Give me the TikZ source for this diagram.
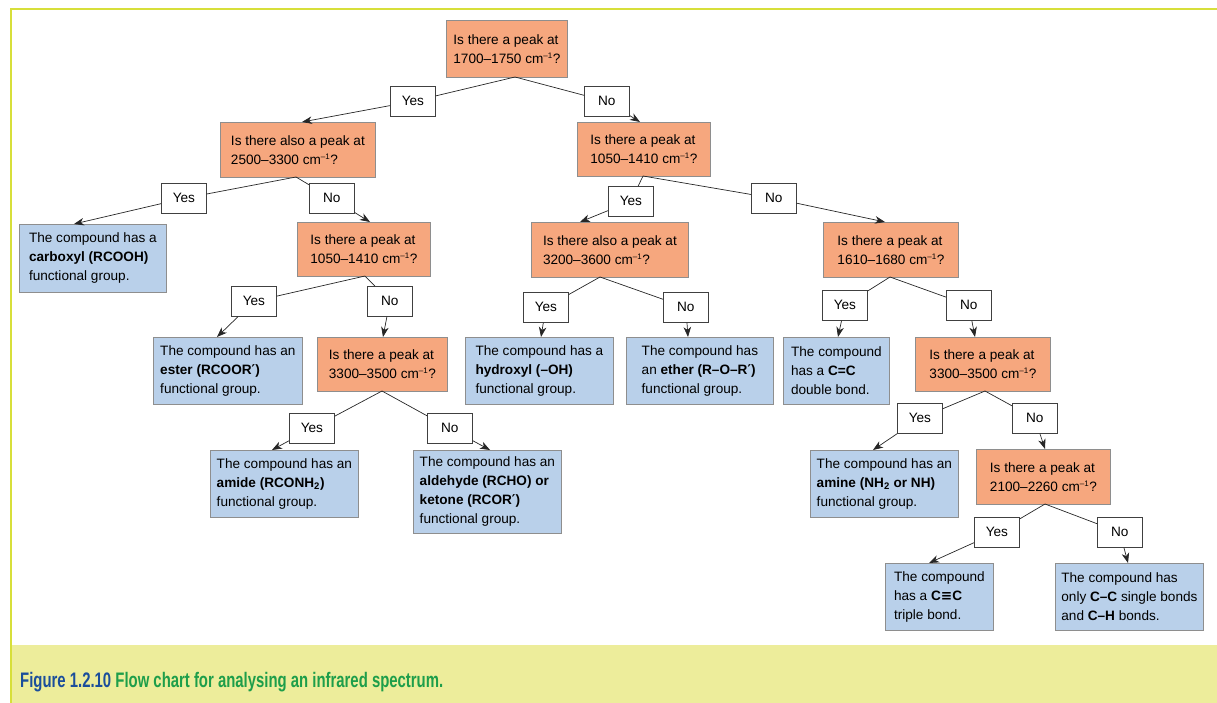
\documentclass[tikz,border=0pt]{standalone}
\usepackage{graphicx}
\usepackage{fontspec}
\setmainfont{Liberation Sans}
\newfontfamily\dv{DejaVu Sans}
\usetikzlibrary{arrows.meta}
\definecolor{qfill}{HTML}{F6A77E}
\definecolor{afill}{HTML}{B9D0EA}
\definecolor{bord}{HTML}{8E8E8E}
\definecolor{framec}{HTML}{D7DF3A}
\definecolor{band}{HTML}{EDED9B}
\definecolor{capblue}{HTML}{1B4E9B}
\definecolor{capgreen}{HTML}{1E9E4A}
\newcommand{\cmi}{cm\textsuperscript{\fontsize{8}{8}\selectfont –1}}
\begin{document}
\begin{tikzpicture}[x=1pt,y=-1pt,
  box/.style={draw=bord, line width=0.8pt, anchor=north west, align=left, inner sep=0pt, font=\fontsize{13.6}{19}\selectfont},
  qbox/.style={box, fill=qfill},
  abox/.style={box, fill=afill},
  lab/.style={draw=black!75, line width=0.7pt, fill=white, anchor=north west, minimum width=45pt, minimum height=30pt, inner sep=0pt, font=\fontsize{13.6}{16}\selectfont},
  conn/.style={draw=black!85, line width=0.7pt},
  arr/.style={conn, -{Stealth[length=10pt,width=7.5pt,inset=3pt]}},
]
\useasboundingbox (0,0) rectangle (1217,703);
\fill[band] (12,645) rectangle (1217,703);
\draw[framec, line width=2pt] (11,703) -- (11,9) -- (1217,9);
\node[anchor=base west, inner sep=0pt] (cap) at (20,687) {\resizebox{423pt}{\height}{\fontsize{21}{21}\selectfont\bfseries\color{capblue}Figure 1.2.10 \color{capgreen}Flow chart for analysing an infrared spectrum.}};

% question boxes
\node[qbox, minimum width=121pt, minimum height=57pt] (Q1) at (446,20) {Is there a peak at\\1700–1750 \cmi?};
\node[qbox, minimum width=155pt, minimum height=55pt] (Q2) at (220,122) {Is there also a peak at\\2500–3300 \cmi?};
\node[qbox, minimum width=133pt, minimum height=54pt] (Q3) at (577,122) {Is there a peak at\\1050–1410 \cmi?};
\node[qbox, minimum width=133pt, minimum height=54pt] (Q4) at (297,222) {Is there a peak at\\1050–1410 \cmi?};
\node[qbox, minimum width=157pt, minimum height=55pt] (Q5) at (531,222) {Is there also a peak at\\3200–3600 \cmi?};
\node[qbox, minimum width=135pt, minimum height=55pt] (Q6) at (823,222) {Is there a peak at\\1610–1680 \cmi?};
\node[qbox, minimum width=130pt, minimum height=54pt] (Q7) at (317,337) {Is there a peak at\\3300–3500 \cmi?};
\node[qbox, minimum width=135pt, minimum height=54pt] (Q8) at (915,337) {Is there a peak at\\3300–3500 \cmi?};
\node[qbox, minimum width=134pt, minimum height=55pt] (Q9) at (976,449) {Is there a peak at\\2100–2260 \cmi?};

% answer boxes
\node[abox, minimum width=147pt, minimum height=68pt] (A1) at (19,224) {The compound has a\\\textbf{carboxyl (RCOOH)}\\functional group.};
\node[abox, minimum width=149pt, minimum height=67pt] (A2) at (153,337) {The compound has an\\\textbf{ester (RCOOR{\dv′})}\\functional group.};
\node[abox, minimum width=148pt, minimum height=67pt] (A3) at (210,450) {The compound has an\\\textbf{amide (RCONH\textsubscript{2})}\\functional group.};
\node[abox, minimum width=148pt, minimum height=83pt] (A4) at (413,450) {The compound has an\\\textbf{aldehyde (RCHO) or}\\\textbf{ketone (RCOR{\dv′})}\\functional group.};
\node[abox, minimum width=148pt, minimum height=67pt] (A5) at (465,337) {The compound has a\\\textbf{hydroxyl (–OH)}\\functional group.};
\node[abox, minimum width=147pt, minimum height=67pt] (A6) at (626,337) {The compound has\\an \textbf{ether (R–O–R{\dv′})}\\functional group.};
\node[abox, minimum width=106pt, minimum height=67pt] (A7) at (783,337) {The compound\\has a \textbf{C=C}\\double bond.};
\node[abox, minimum width=148pt, minimum height=67pt] (A8) at (810,450) {The compound has an\\\textbf{amine (NH\textsubscript{2} or NH)}\\functional group.};
\node[abox, minimum width=108pt, minimum height=67pt] (A9) at (885,563) {The compound\\has a \textbf{C{\dv≡}C}\\triple bond.};
\node[abox, minimum width=148pt, minimum height=67pt] (A10) at (1055,563) {The compound has\\only \textbf{C–C} single bonds\\and \textbf{C–H} bonds.};

% start and end points of connectors
\coordinate (s1) at (515,77);
\coordinate (s2) at (296,177);
\coordinate (s3) at (643,176);
\coordinate (s4) at (365,276);
\coordinate (s5) at (600,277);
\coordinate (s6) at (890,277);
\coordinate (s7) at (382,391);
\coordinate (s8) at (985,391);
\coordinate (s9) at (1045,504);
\coordinate (tQ2) at (302,122);
\coordinate (tQ3) at (640,122);
\coordinate (tA1) at (74,224);
\coordinate (tQ4) at (370,222);
\coordinate (tQ5) at (580,222);
\coordinate (tQ6) at (885,222);
\coordinate (tA2) at (217,337);
\coordinate (tQ7) at (383,337);
\coordinate (tA3) at (272,450);
\coordinate (tA4) at (490,450);
\coordinate (tA5) at (541,337);
\coordinate (tA6) at (688,337);
\coordinate (tA7) at (838,337);
\coordinate (tQ8) at (975,337);
\coordinate (tA8) at (873,450);
\coordinate (tQ9) at (1045,449);
\coordinate (tA9) at (929,563);
\coordinate (tA10) at (1128,563);

% label boxes
\node[lab] (y1) at (390,86) {Yes};
\node[lab] (n1) at (584,86) {No};
\node[lab] (y2) at (161,183) {Yes};
\node[lab] (n2) at (309,183) {No};
\node[lab] (y3) at (608,186) {Yes};
\node[lab] (n3) at (751,183) {No};
\node[lab] (y4) at (231,286) {Yes};
\node[lab] (n4) at (367,286) {No};
\node[lab] (y7) at (289,413) {Yes};
\node[lab] (n7) at (427,413) {No};
\node[lab] (y5) at (523,292) {Yes};
\node[lab] (n5) at (663,292) {No};
\node[lab] (y6) at (822,290) {Yes};
\node[lab] (n6) at (946,290) {No};
\node[lab] (y8) at (897,403) {Yes};
\node[lab] (n8) at (1012,403) {No};
\node[lab] (y9) at (974,517) {Yes};
\node[lab] (n9) at (1097,517) {No};

% connectors
\draw[conn] (s1) -- (y1); \draw[arr] (y1) -- (tQ2);
\draw[conn] (s1) -- (n1); \draw[arr] (n1) -- (tQ3);
\draw[conn] (s2) -- (y2); \draw[arr] (y2) -- (tA1);
\draw[conn] (s2) -- (n2); \draw[arr] (n2) -- (tQ4);
\draw[conn] (s3) -- (y3); \draw[arr] (y3) -- (tQ5);
\draw[conn] (s3) -- (n3); \draw[arr] (n3) -- (tQ6);
\draw[conn] (s4) -- (y4); \draw[arr] (y4) -- (tA2);
\draw[conn] (s4) -- (n4); \draw[arr] (n4) -- (tQ7);
\draw[conn] (s7) -- (y7); \draw[arr] (y7) -- (tA3);
\draw[conn] (s7) -- (n7); \draw[arr] (n7) -- (tA4);
\draw[conn] (s5) -- (y5); \draw[arr] (y5) -- (tA5);
\draw[conn] (s5) -- (n5); \draw[arr] (n5) -- (tA6);
\draw[conn] (s6) -- (y6); \draw[arr] (y6) -- (tA7);
\draw[conn] (s6) -- (n6); \draw[arr] (n6) -- (tQ8);
\draw[conn] (s8) -- (y8); \draw[arr] (y8) -- (tA8);
\draw[conn] (s8) -- (n8); \draw[arr] (n8) -- (tQ9);
\draw[conn] (s9) -- (y9); \draw[arr] (y9) -- (tA9);
\draw[conn] (s9) -- (n9); \draw[arr] (n9) -- (tA10);
\end{tikzpicture}
\end{document}
